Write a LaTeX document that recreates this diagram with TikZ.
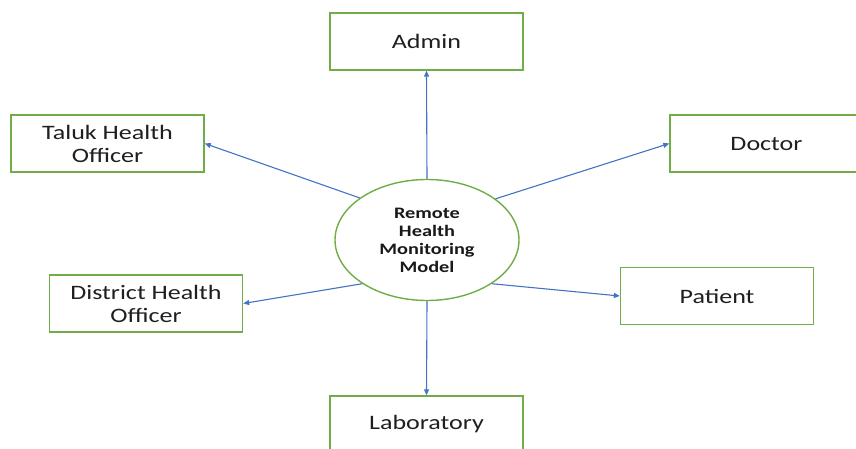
\documentclass[tikz,border=0pt]{standalone}
\usepackage{fontspec}
\setmainfont{Carlito}
\newfontfamily\wideface[FakeStretch=1.27]{Carlito}
\usetikzlibrary{shapes.geometric,arrows.meta}
\definecolor{boxgreen}{HTML}{70AD47}
\definecolor{arrowblue}{HTML}{4472C4}
\tikzset{
  ent/.style={draw=boxgreen, line width=1.4pt, fill=white, minimum width=193pt, minimum height=57pt, align=center, font=\wideface\fontsize{20.5}{23}\selectfont, text=black!88, inner sep=0pt},
  conn/.style={draw=arrowblue, line width=1.1pt, -{Triangle[length=6pt,width=5pt]}}
}
\begin{document}
\begin{tikzpicture}[x=1pt,y=-1pt]
\useasboundingbox (0,0) rectangle (856,449);
\begin{scope}
\clip (0,0) rectangle (856,449);
\node[ent] (admin) at (426.5,41.5) {Admin};
\node[ent] (taluk) at (107.5,143.5) {Taluk Health\\Officer};
\node[ent] (doctor) at (766.5,143.5) {Doctor};
\node[ent] (district) at (146,303.5) {District Health\\Officer};
\node[ent] (patient) at (717,296) {Patient};
\node[ent, minimum height=80pt] (lab) at (426.5,436) {};
\node[font=\wideface\fontsize{20.5}{23}\selectfont, text=black!88] (labt) at (426.5,424) {Laboratory};
\node[ellipse, draw=boxgreen, line width=1.4pt, fill=white, minimum width=184pt, minimum height=121pt, inner sep=0pt, align=center, text=black!90, font=\wideface\bfseries\fontsize{16}{18}\selectfont] (m) at (427,240) {Remote\\Health\\Monitoring\\Model};
\end{scope}
\draw[conn] (m.90) -- (admin.south);
\draw[conn] (m.148) -- (taluk.east);
\draw[conn] (m.31) -- (doctor.west);
\draw[conn] (m.214) -- (district.east);
\draw[conn] (m.326) -- (patient.west);
\draw[conn] (m.270) -- (lab.north);
\end{tikzpicture}
\end{document}
